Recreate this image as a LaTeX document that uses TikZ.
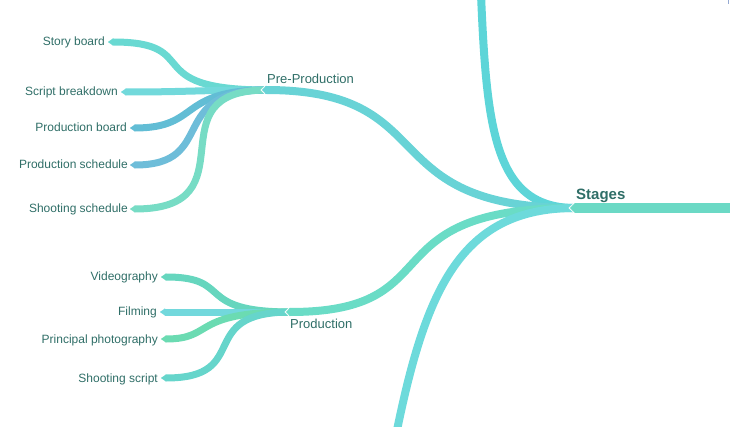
\documentclass[tikz,border=0pt]{standalone}
\usepackage{fontspec}
\setmainfont{Liberation Sans}
\usetikzlibrary{arrows.meta,calc}
\definecolor{txt}{HTML}{2F6E67}
\definecolor{cTr}{HTML}{6BD9C5}
\definecolor{cTop}{HTML}{5DD5D8}
\definecolor{cPre}{HTML}{68D3D6}
\definecolor{cPro}{HTML}{6ADCC6}
\definecolor{cBot}{HTML}{6DDADB}
\definecolor{cSB}{HTML}{69D9D2}
\definecolor{cSCB}{HTML}{72D9DB}
\definecolor{cPB}{HTML}{62BDD5}
\definecolor{cPS}{HTML}{6EBDD9}
\definecolor{cSS}{HTML}{77DCC5}
\definecolor{cVID}{HTML}{66D6BE}
\definecolor{cFIL}{HTML}{72D8DC}
\definecolor{cPPH}{HTML}{6BDBB2}
\definecolor{cSCR}{HTML}{66D5CB}
\definecolor{cMark}{HTML}{96AAD2}
\begin{document}
\begin{tikzpicture}[x=1pt,y=-1pt,
  leaf/.style={font=\fontsize{12}{14}\selectfont, text=txt, inner sep=0pt, anchor=base east},
  mid/.style={font=\fontsize{13}{15}\selectfont, text=txt, inner sep=0pt, anchor=base west},
  root/.style={font=\fontsize{15}{18}\selectfont\bfseries, text=txt, inner sep=0pt, anchor=base west},
  lline/.style={line width=7pt, -{Triangle[length=5pt, width=0pt 1, line width=0.1pt]}},
  bline/.style={line width=8pt, -{Triangle[length=4pt, width=0pt 1, line width=0.1pt]}},
  bfree/.style={line width=8pt},
  halo/.style={white, line width=10pt, -{Triangle[length=5pt, width=0pt 1, line width=0.1pt]}},
]
\useasboundingbox (0,0) rectangle (730,427);
\clip (0,0) rectangle (730,427);

% junction points
\coordinate (stj) at (570,208);
\coordinate (stk) at (575,208);
\coordinate (ppj) at (262,90);
\coordinate (ppk) at (267,90);
\coordinate (prj) at (286,312);
\coordinate (prk) at (291,312);
\coordinate (trunkend) at (735,208);
\coordinate (topend) at (480,-30);
\coordinate (botend) at (395,440);
% leaf tips
\coordinate (sbt) at (108,42);
\coordinate (scbt) at (121,92);
\coordinate (pbt) at (130,128);
\coordinate (pst) at (130,165);
\coordinate (sst) at (130,209);
\coordinate (vit) at (161,277);
\coordinate (fit) at (160,312);
\coordinate (ppt) at (161,339);
\coordinate (sct) at (161,378);

% Pre-Production children
\draw[lline, cSB] (ppk) .. controls (136,90) and (206,42) .. (sbt);
\draw[lline, cSCB] (ppk) .. controls (200,90) and (190,92) .. (scbt);
\draw[lline, cPB] (ppk) .. controls (177,90) and (201,128) .. (pbt);
\draw[lline, cPS] (ppk) .. controls (165,90) and (219,165) .. (pst);
\draw[lline, cSS] (ppk) .. controls (149,90) and (255,209) .. (sst);

% Production children
\draw[lline, cVID] (prk) .. controls (192,312) and (235,277) .. (vit);
\draw[lline, cFIL] (prk) -- (fit);
\draw[lline, cPPH] (prk) .. controls (190,312) and (215,339) .. (ppt);
\draw[lline, cSCR] (prk) .. controls (193,312) and (254,378) .. (sct);

% white notches
\draw[halo] ($(ppj)+(14,0)$) -- ($(ppj)+(-1.4,0)$);
\draw[halo] ($(prj)+(14,0)$) -- ($(prj)+(-1.4,0)$);

% Stages branches
\draw[bfree, cTop] (stk) .. controls (490,208) and (486,120) .. (topend);
\draw[bline, cPre] (stk) .. controls (370,208) and (445,90) .. (ppj);
\draw[bline, cPro] (stk) .. controls (365,208) and (455,312) .. (prj);
\draw[bfree, cBot] (stk) .. controls (460,208) and (425,290) .. (botend);

% trunk
\draw[white, line width=11.5pt, -{Triangle[length=6pt, width=0pt 1, line width=0.1pt]}] (trunkend) -- ($(stj)+(-1.4,0)$);
\draw[cTr, line width=9.5pt, -{Triangle[length=5pt, width=0pt 1, line width=0.1pt]}] (trunkend) -- (stj);

% labels
\node[root] (stages) at (576,200) {Stages};
\node[mid] (prepro) at (267,84) {Pre-Production};
\node[mid] (prod) at (290,328) {Production};
\node[leaf] (sb) at ($(sbt)+(-3,4)$) {Story board};
\node[leaf] (scb) at ($(scbt)+(-3,4)$) {Script breakdown};
\node[leaf] (pb) at ($(pbt)+(-3,4)$) {Production board};
\node[leaf] (ps) at ($(pst)+(-2,4)$) {Production schedule};
\node[leaf] (ss) at ($(sst)+(-2,4)$) {Shooting schedule};
\node[leaf] (vid) at ($(vit)+(-3,4)$) {Videography};
\node[leaf] (fil) at ($(fit)+(-3,4)$) {Filming};
\node[leaf] (pph) at ($(ppt)+(-3,4)$) {Principal photography};
\node[leaf] (scr) at ($(sct)+(-3,4)$) {Shooting script};

% small mark at top right edge
\draw[cMark, line width=1pt] (728.5,0) -- (728.5,4);
\end{tikzpicture}
\end{document}
